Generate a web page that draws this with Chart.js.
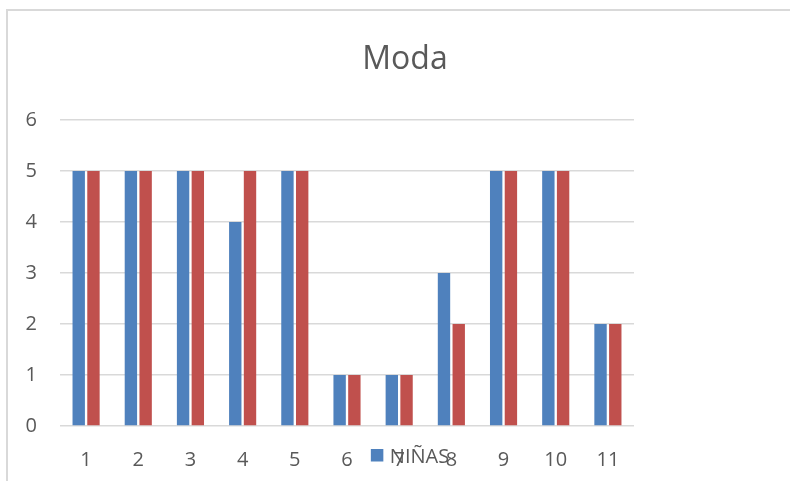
<!DOCTYPE html>
<html>
<head>
<meta charset="utf-8">
<script src="https://cdn.jsdelivr.net/npm/chart.js@4/dist/chart.umd.min.js"></script>
<style>
  body { margin: 0; background: #fff; overflow: hidden; }
  #wrap { position: relative; width: 790px; height: 481px; }
  #frame { position: absolute; left: 6px; top: 9px; width: 820px; height: 520px;
           border-top: 2px solid #d9d9d9; border-left: 2px solid #d9d9d9; }
  canvas { position: absolute; left: 0; top: 0; }
</style>
</head>
<body>
<div id="wrap">
  <div id="frame"></div>
  <canvas id="modaChart" width="790" height="481"></canvas>
</div>
<script>
// Datos del gráfico
const categorias = ['1', '2', '3', '4', '5', '6', '7', '8', '9', '10', '11'];
const ninas = [5, 5, 5, 4, 5, 1, 1, 3, 5, 5, 2];
const ninos = [5, 5, 5, 5, 5, 1, 1, 2, 5, 5, 2];
const ticksY = [0, 1, 2, 3, 4, 5, 6];

const gris = '#595959';
const fuente = '"Open Sans", "Liberation Sans", sans-serif';
const centroX = 405;

// Título y leyenda dibujados a mano (se superponen como en el original)
const extras = {
    id: 'extras',
    afterDraw(chart) {
        const ctx = chart.ctx;
        ctx.save();
        ctx.fillStyle = gris;
        ctx.textAlign = 'center';
        ctx.textBaseline = 'alphabetic';
        ctx.font = '32px ' + fuente;
        ctx.fillText('Moda', centroX, 69);

        const ds = chart.data.datasets[0];
        ctx.font = '20px ' + fuente;
        const w = ctx.measureText(ds.label).width;
        const total = 12 + 7 + w;
        const x0 = centroX + 5 - total / 2;
        const yb = chart.chartArea.bottom + 37;
        ctx.fillStyle = ds.backgroundColor;
        ctx.fillRect(x0, yb - 14, 12.5, 12.5);
        ctx.fillStyle = gris;
        ctx.textAlign = 'left';
        ctx.fillText(ds.label, x0 + 19, yb);
        ctx.restore();
    }
};

const ctx = document.getElementById('modaChart').getContext('2d');
new Chart(ctx, {
    type: 'bar',
    data: {
        labels: categorias,
        datasets: [
            { label: 'NIÑAS', data: ninas, backgroundColor: '#4F81BD' },
            { label: 'NIÑOS', data: ninos, backgroundColor: '#C0504D' }
        ]
    },
    options: {
        responsive: false,
        animation: false,
        categoryPercentage: 0.565,
        barPercentage: 0.84,
        layout: { padding: { top: 120, right: 156, bottom: 0, left: 0 } },
        plugins: {
            legend: { display: false },
            title: { display: false },
            tooltip: { enabled: false }
        },
        scales: {
            x: {
                grid: { display: false },
                border: { display: false },
                ticks: { color: gris, font: { size: 20, family: fuente }, padding: 14, maxRotation: 0 },
                afterFit(s) { s.height = 55; }
            },
            y: {
                min: 0,
                max: 6,
                afterBuildTicks(s) { s.ticks = ticksY.map(v => ({ value: v })); },
                grid: { color: '#d9d9d9', lineWidth: 1.5, drawTicks: false },
                border: { display: false },
                ticks: { color: gris, font: { size: 20, family: fuente }, padding: 23 },
                afterFit(s) { s.width = 60; }
            }
        }
    },
    plugins: [extras]
});
</script>
</body>
</html>
